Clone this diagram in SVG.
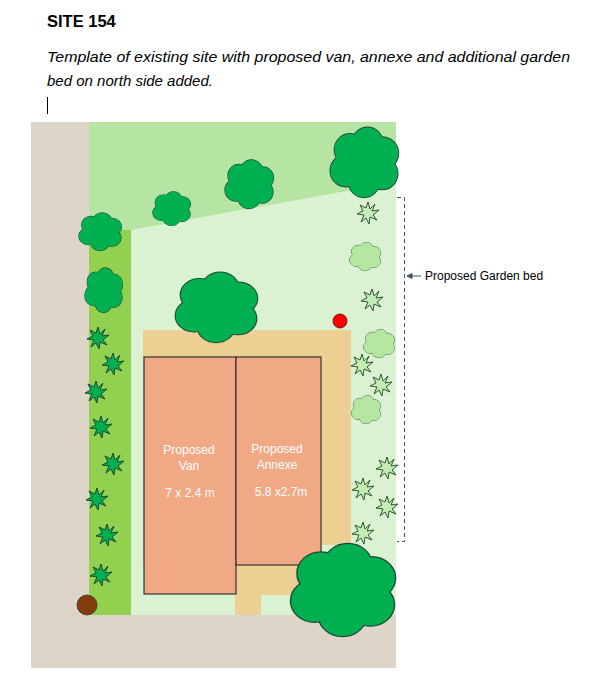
<svg xmlns="http://www.w3.org/2000/svg" xmlns:xlink="http://www.w3.org/1999/xlink" width="602" height="682" viewBox="0 0 602 682">
<style>
text{font-family:"Liberation Sans",Arial,sans-serif}
.lbl{fill:#fff;font-size:12px;text-anchor:middle}
.os{stroke:#1e4a3a;stroke-width:1.3;vector-effect:non-scaling-stroke}
.dk{fill:#00b050}.lt{fill:#b5e6a2}
.stard{fill:#00b050;stroke:#1e4a30;stroke-width:1}
.starl{fill:#c4ecb4;stroke:#2e5a30;stroke-width:1}
.bld{fill:#f1a985;stroke:#333;stroke-width:1.2}
</style>
<defs>
<g id="cl">
<circle cx="30" cy="33" r="22"/><circle cx="55" cy="24" r="22"/><circle cx="77" cy="38" r="22"/><circle cx="76" cy="66" r="22"/><circle cx="50" cy="77" r="22"/><circle cx="24" cy="62" r="22"/><circle cx="50" cy="50" r="30"/>
</g>
<g id="cloudD"><use xlink:href="#cl" class="dk os" style="stroke-width:2.6"/><use xlink:href="#cl" class="dk"/></g>
<g id="cloudL"><use xlink:href="#cl" class="lt os" style="stroke-width:2.6"/><use xlink:href="#cl" class="lt"/></g>
<polygon id="star" points="0,-11 2,-4 7,-9 4,-2 11,-3 5,2 9,7 2,4 1,11 -2,5 -7,9 -4,2 -11,1 -5,-2 -8,-8 -2,-5"/>
</defs>
<rect width="602" height="682" fill="#fff"/>
<text x="47" y="27" font-size="16.5" font-weight="bold" font-family="Open Sans, sans-serif">SITE 154</text>
<text x="47" y="62" font-size="15" font-style="italic" font-family="Open Sans, sans-serif" textLength="523" lengthAdjust="spacingAndGlyphs">Template of existing site with proposed van, annexe and additional garden</text>
<text x="47" y="86" font-size="15" font-style="italic" font-family="Open Sans, sans-serif">bed on north side added.</text>
<line x1="47.5" y1="97" x2="47.5" y2="114" stroke="#000"/>
<g id="ground">
<rect x="31" y="122" width="365" height="546" fill="#ddd5c8"/>
<rect x="89" y="122" width="307" height="493" fill="#daf2d1"/>
<polygon points="89,122 396,122 396,182 131,230 89,230" fill="#b5e4a3"/>
<rect x="89" y="230" width="42" height="385" fill="#92d050"/>
<polygon points="143,330 351,330 351,545 300,545 300,595 261,595 261,615 235,615 235,565 143,565" fill="#ebcf93"/>
</g>
<g id="van"><rect class="bld" x="144" y="357" width="92" height="237"/>
<text class="lbl" x="189" y="454">Proposed</text><text class="lbl" x="189" y="470">Van</text><text class="lbl" x="190" y="497">7 x 2.4 m</text></g>
<g id="annexe"><rect class="bld" x="236" y="357" width="85" height="208"/>
<text class="lbl" x="277" y="453">Proposed</text><text class="lbl" x="277" y="469">Annexe</text><text class="lbl" x="281" y="496">5.8 x2.7m</text></g>
<g id="trees">
<use xlink:href="#cloudD" transform="translate(329,126) scale(0.7,0.72)"/>
<use xlink:href="#cloudD" transform="translate(224,159) scale(0.5,0.5)"/>
<use xlink:href="#cloudD" transform="translate(152,191) scale(0.39,0.35)"/>
<use xlink:href="#cloudD" transform="translate(78,212) scale(0.44,0.39)"/>
<use xlink:href="#cloudD" transform="translate(84,267) scale(0.39,0.46)"/>
<use xlink:href="#cloudD" transform="translate(174,271) scale(0.84,0.72)"/>
<use xlink:href="#cloudD" transform="translate(289,542) scale(1.07,0.95)"/>
<use xlink:href="#cloudL" transform="translate(349,242) scale(0.32,0.29)"/>
<use xlink:href="#cloudL" transform="translate(363,329) scale(0.32,0.29)"/>
<use xlink:href="#cloudL" transform="translate(351,395) scale(0.3,0.29)"/>
</g>
<g id="shrubs">
<use xlink:href="#star" class="stard" x="98" y="338"/>
<use xlink:href="#star" class="stard" x="113" y="364"/>
<use xlink:href="#star" class="stard" x="96" y="392"/>
<use xlink:href="#star" class="stard" x="101" y="427"/>
<use xlink:href="#star" class="stard" x="113" y="464"/>
<use xlink:href="#star" class="stard" x="97" y="499"/>
<use xlink:href="#star" class="stard" x="107" y="535"/>
<use xlink:href="#star" class="stard" x="101" y="575"/>
<use xlink:href="#star" class="starl" x="368" y="213"/>
<use xlink:href="#star" class="starl" x="372" y="300"/>
<use xlink:href="#star" class="starl" x="362" y="365"/>
<use xlink:href="#star" class="starl" x="381" y="385"/>
<use xlink:href="#star" class="starl" x="387" y="468"/>
<use xlink:href="#star" class="starl" x="363" y="489"/>
<use xlink:href="#star" class="starl" x="387" y="507"/>
<use xlink:href="#star" class="starl" x="363" y="533"/>
</g>
<circle cx="340" cy="321" r="7" fill="#f00" stroke="#600" stroke-width="0.8"/>
<circle cx="87" cy="605" r="10" fill="#843c0c" stroke="#333" stroke-width="0.8"/>
<g id="connectors" fill="none" stroke="#44546a" stroke-width="1">
<path d="M397,197.5 H404.5 V541.5 H397" stroke-dasharray="4,3"/>
<line x1="421" y1="276" x2="410" y2="276"/>
<polygon points="407,276 412,273.5 412,278.5" fill="#44546a"/>
</g>
<text x="425" y="280" font-size="12">Proposed Garden bed</text>
</svg>
